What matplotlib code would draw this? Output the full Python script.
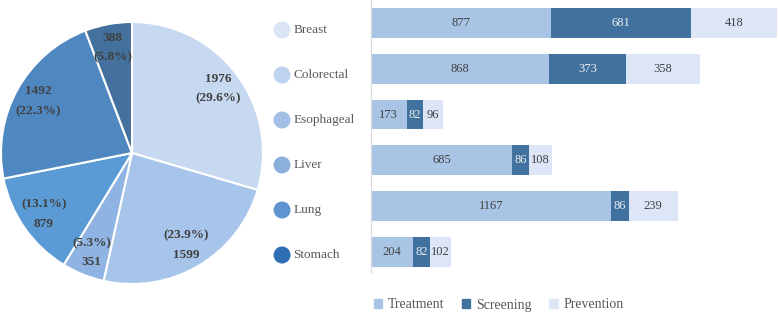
import numpy as np
import matplotlib.pyplot as plt
from matplotlib.patches import Patch

plt.rcParams['font.family'] = ['Liberation Serif', 'DejaVu Serif']

cancers = ['Breast', 'Colorectal', 'Esophageal', 'Liver', 'Lung', 'Stomach']
treatment = [877, 868, 173, 685, 1167, 204]
screening = [681, 373, 82, 86, 86, 82]
prevention = [418, 358, 96, 108, 239, 102]

totals = np.array(treatment) + np.array(screening) + np.array(prevention)

pie_colors = ['#c6d9f1', '#a7c4ea', '#8fb4e3', '#5b9bd5', '#4f87c0', '#43709c']
dot_colors = ['#dbe5f6', '#bdd3ef', '#a3c0e6', '#8bb0dc', '#5e94cf', '#2f6db5']
c_treat = '#a9c5e6'
c_screen = '#41729f'
c_prev = '#dce6f7'
txt = '#404040'

W, H = 778, 313
fig = plt.figure(figsize=(W / 100, H / 100), dpi=100)

# pie
axp = fig.add_axes([1 / W, 29 / H, 262 / W, 262 / H])
wedges, _, autotexts = axp.pie(totals, colors=pie_colors, startangle=90, counterclock=False,
                               autopct='%1.1f%%', pctdistance=0.82,
                               wedgeprops=dict(edgecolor='white', linewidth=1.5))
axp.set_xlim(-1, 1)
axp.set_ylim(-1, 1)
pct = totals / totals.sum() * 100
for w, t, v, p in zip(wedges, autotexts, totals, pct):
    mid = np.deg2rad((w.theta1 + w.theta2) / 2)
    if np.sin(mid) > 0:
        s = '%d\n(%.1f%%)' % (v, p)
    else:
        s = '(%.1f%%)\n%d' % (p, v)
    t.set_text(s)
    t.set_fontsize(9.5)
    t.set_fontweight('bold')
    t.set_color(txt)
    t.set_linespacing(1.85)
    t.set_ha('center')

# category dots
axl = fig.add_axes([272 / W, (H - 277.5) / H, 98 / W, 270 / H])
ypos = np.arange(len(cancers))
axl.scatter([0] * len(cancers), ypos, s=150, c=dot_colors, linewidths=0)
for y, name in zip(ypos, cancers):
    axl.text(0.45, y, name, va='center', ha='left', fontsize=9.5, color='#595959')
axl.set_xlim(-0.4, 3.5)
axl.set_ylim(5.5, -0.5)
axl.axis('off')

# stacked bars
axb = fig.add_axes([371 / W, (H - 273) / H, 407 / W, 273 / H])
b1 = axb.barh(ypos, treatment, height=0.65, color=c_treat)
b2 = axb.barh(ypos, screening, left=treatment, height=0.65, color=c_screen)
b3 = axb.barh(ypos, prevention, left=np.array(treatment) + np.array(screening), height=0.65, color=c_prev)
axb.bar_label(b1, label_type='center', fontsize=9, color=txt)
axb.bar_label(b2, label_type='center', fontsize=9, color='#eeeeee')
axb.bar_label(b3, label_type='center', fontsize=9, color=txt)
axb.set_xlim(0, 1980)
axb.set_ylim(5.46, -0.5)
for s in ['top', 'right', 'bottom']:
    axb.spines[s].set_visible(False)
axb.spines['left'].set_color('#d9d9d9')
axb.set_xticks([])
axb.set_yticks([])

handles = [Patch(color=c_treat), Patch(color=c_screen), Patch(color=c_prev)]
fig.legend(handles, ['Treatment', 'Screening', 'Prevention'], loc='lower left',
           bbox_to_anchor=(361 / W, -11 / H), ncol=3, frameon=False, fontsize=10,
           handlelength=0.6, handleheight=0.6, handletextpad=0.4, columnspacing=1.3,
           labelcolor='#595959')

fig.savefig('out.png', dpi=100)
